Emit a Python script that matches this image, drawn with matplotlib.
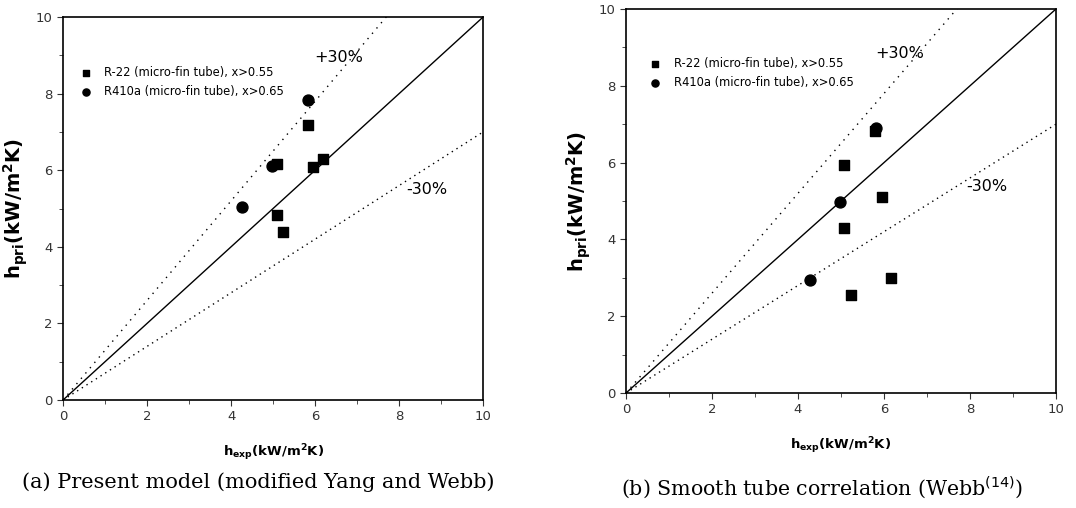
import numpy as np
import matplotlib.pyplot as plt
from matplotlib.ticker import MultipleLocator

# (a) present model
a_r22_x = [5.82, 5.09, 5.96, 6.18, 5.09, 5.23]
a_r22_y = [7.19, 6.16, 6.09, 6.29, 4.84, 4.39]
a_r410_x = [5.82, 4.97, 4.27]
a_r410_y = [7.83, 6.11, 5.04]

# (b) smooth tube correlation
b_r22_x = [5.80, 5.06, 5.95, 5.07, 6.17, 5.23]
b_r22_y = [6.81, 5.93, 5.10, 4.30, 2.99, 2.54]
b_r410_x = [5.81, 4.97, 4.27]
b_r410_y = [6.91, 4.97, 2.93]

ticks = [0, 2, 4, 6, 8, 10]

fig = plt.figure(figsize=(10.76, 5.08), dpi=100)
ax1 = fig.add_axes([0.0586, 0.2126, 0.3904, 0.7539])
ax2 = fig.add_axes([0.5818, 0.2264, 0.3996, 0.7559])

def panel(ax, r22x, r22y, r410x, r410y, p30, m30, leg_anchor):
    xx = np.array([0, 10])
    ax.plot(xx, xx, color='k', lw=1.0)
    ax.plot(xx, 1.3 * xx, color='k', lw=1.0, ls=(0, (1, 4)))
    ax.plot(xx, 0.7 * xx, color='k', lw=1.0, ls=(0, (1, 3)))
    ax.scatter(r22x, r22y, marker='s', s=55, color='k', zorder=3,
               label='R-22 (micro-fin tube), x>0.55')
    ax.scatter(r410x, r410y, marker='o', s=62, color='k', zorder=3,
               label='R410a (micro-fin tube), x>0.65')
    ax.text(p30[0], p30[1], '+30%', fontsize=11.5, ha='center', va='center')
    ax.text(m30[0], m30[1], '-30%', fontsize=11.5, ha='center', va='center')
    ax.set_xlim(0, 10)
    ax.set_ylim(0, 10)
    ax.set_xticks(ticks)
    ax.set_yticks(ticks)
    ax.xaxis.set_minor_locator(MultipleLocator(1))
    ax.yaxis.set_minor_locator(MultipleLocator(1))
    ax.tick_params(which='both', direction='out', labelsize=9.5, colors='#333333')
    ax.tick_params(which='major', length=4)
    ax.tick_params(which='minor', length=3)
    for s in ax.spines.values():
        s.set_linewidth(1.2)
    ax.set_xlabel(r'$\mathbf{h_{exp}}$(kW/m$^\mathbf{2}$K)', fontsize=9.5,
                  fontweight='bold', labelpad=14)
    ax.set_ylabel(r'$\mathbf{h_{pri}}$(kW/m$^\mathbf{2}$K)', fontsize=14,
                  fontweight='bold', labelpad=4)
    ax.legend(loc='upper left', bbox_to_anchor=leg_anchor, frameon=False,
              fontsize=8.3, handletextpad=0.6, markerscale=0.65,
              labelspacing=0.55, borderaxespad=0)

panel(ax1, a_r22_x, a_r22_y, a_r410_x, a_r410_y, (6.55, 8.95), (8.65, 5.5), (0.016, 0.884))
panel(ax2, b_r22_x, b_r22_y, b_r410_x, b_r410_y, (6.36, 8.85), (8.4, 5.38), (0.031, 0.888))

fig.text(0.24, 0.05, '(a) Present model (modified Yang and Webb)',
         family='DejaVu Serif', fontsize=15, ha='center', va='center')
fig.text(0.764, 0.04, r'(b) Smooth tube correlation (Webb$^{(14)}$)',
         family='DejaVu Serif', fontsize=14.8, ha='center', va='center')

fig.savefig('out.png', dpi=100)
